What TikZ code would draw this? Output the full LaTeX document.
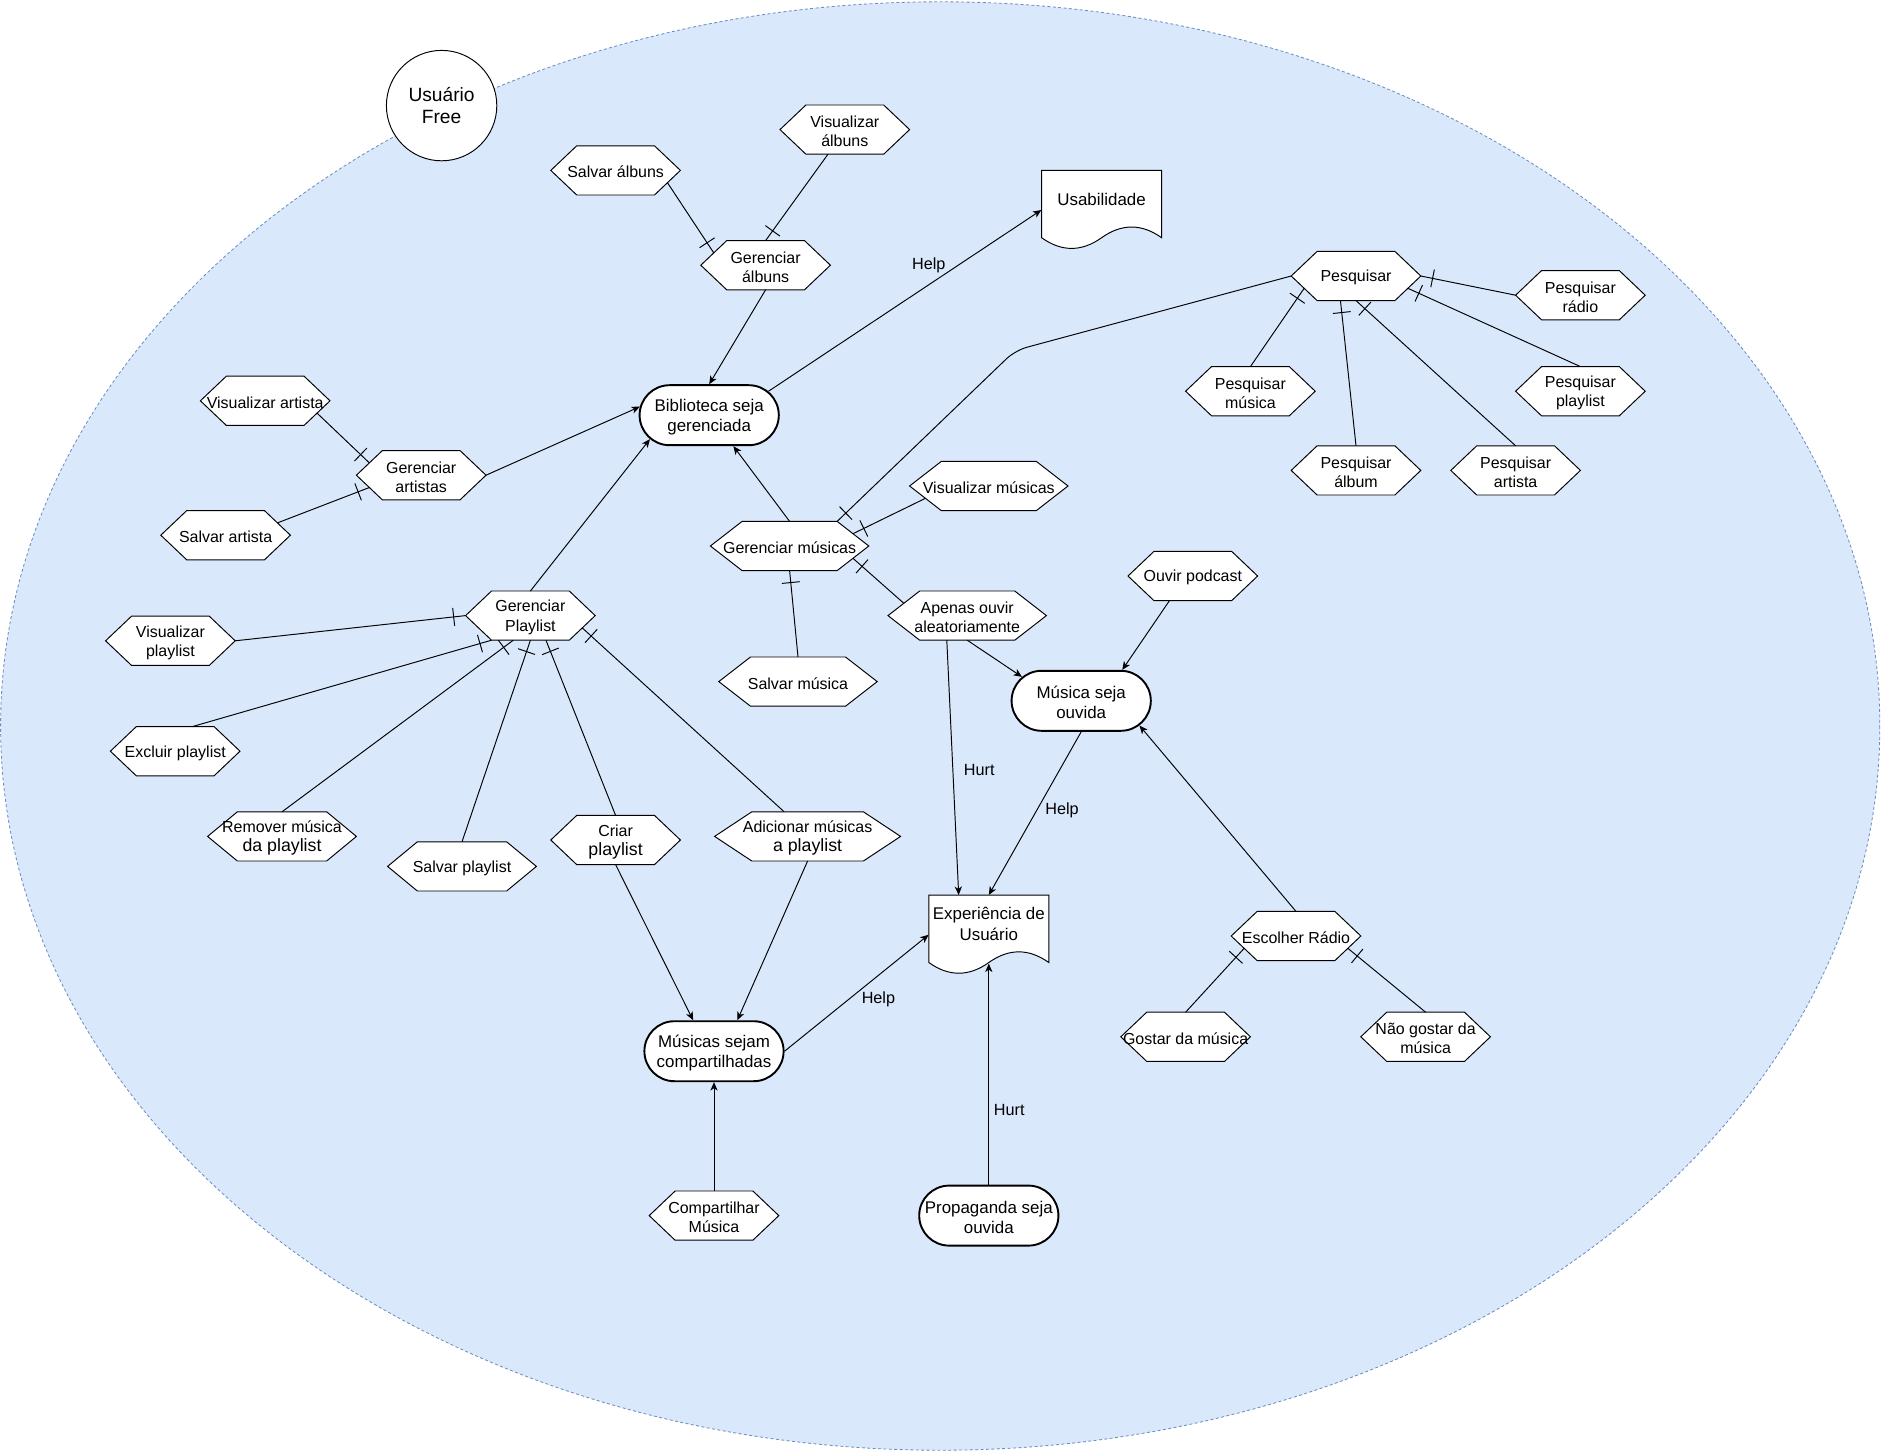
\documentclass[tikz,border=0pt]{standalone}
\usepackage{fontspec}
\setmainfont{Liberation Sans}
\usetikzlibrary{shapes.misc,arrows.meta,decorations.markings,calc}
\definecolor{bgblue}{HTML}{DAE8FC}
\definecolor{bdblue}{HTML}{6C8EBF}
\newcommand\bigln{\fontsize{14.8}{16}\selectfont}
\tikzset{
  hexshape/.style={draw=black, fill=white, line width=0.8pt},
  hextext/.style={rectangle, draw=none, inner sep=0pt, align=center, yshift=-1.5pt, font=\fontsize{13.3}{16}\selectfont},
  goal/.style={rounded rectangle, draw=black, fill=white, line width=1.6pt, minimum width=116pt, minimum height=50pt, inner sep=0pt, align=center, font=\fontsize{14.1}{17}\selectfont},
  goaltext/.style={inner sep=0pt, align=center, font=\fontsize{14.1}{17}\selectfont},
  docshape/.style={draw=black, fill=white, line width=0.8pt},
  docbox/.style={rectangle, draw=none, minimum width=100pt, minimum height=66pt, inner sep=0pt},
  doctext/.style={align=center, inner sep=0pt, font=\fontsize{14.1}{17}\selectfont},
  conn/.style={draw=black, line width=0.8pt},
  arr/.style={conn, -{Stealth[length=7pt,width=6pt,inset=2pt]}},
  tickend/.style={conn, postaction={decorate}, decoration={markings, mark=at position -10pt with {\draw[black, line width=0.8pt] (0,-7.5pt) -- (0,7.5pt);}}},
  lbl/.style={inner sep=0pt, font=\fontsize{13.5}{16}\selectfont},
}
% name, cx, cy, w, h, text
\newcommand\hexnode[6]{%
  \coordinate (#1-l) at (#2-0.5*#4,#3);
  \coordinate (#1-r) at (#2+0.5*#4,#3);
  \coordinate (#1-t) at (#2,#3-0.5*#5);
  \coordinate (#1-b) at (#2,#3+0.5*#5);
  \coordinate (#1-tl) at (#2-0.3*#4,#3-0.5*#5);
  \coordinate (#1-tr) at (#2+0.3*#4,#3-0.5*#5);
  \coordinate (#1-bl) at (#2-0.3*#4,#3+0.5*#5);
  \coordinate (#1-br) at (#2+0.3*#4,#3+0.5*#5);
  \coordinate (#1-ul) at (#2-0.4*#4,#3-0.25*#5);
  \coordinate (#1-ur) at (#2+0.4*#4,#3-0.25*#5);
  \coordinate (#1-dl) at (#2-0.4*#4,#3+0.25*#5);
  \coordinate (#1-dr) at (#2+0.4*#4,#3+0.25*#5);
  \path[hexshape] (#1-l) -- (#1-tl) -- (#1-tr) -- (#1-r) -- (#1-br) -- (#1-bl) -- cycle;
  \node[hextext] (#1) at (#2,#3) {#6};
}
% name, cx, cy, text
\newcommand\goalnode[4]{%
  \node[goal] (#1) at (#2,#3) {};
  \node[goaltext] (#1-txt) at (#2,#3+1.5) {#4};
}
% name, cx, top, text
\newcommand\docnode[4]{%
  \path[docshape] (#2-50,#3) -- (#2+50,#3) -- (#2+50,#3+56.1)
    .. controls (#2+33.33,#3+44.23) and (#2+16.67,#3+44.23) .. (#2,#3+56.1)
    .. controls (#2-16.67,#3+67.97) and (#2-33.33,#3+67.97) .. (#2-50,#3+56.1) -- cycle;
  \node[docbox] (#1) at (#2,#3+33) {};
  \node[doctext] (#1-txt) at (#2,#3+24) {#4};
  \coordinate (#1-w) at (#2,#3+57);
}
\begin{document}
\begin{tikzpicture}[x=1pt,y=-1pt]
\useasboundingbox (0,0) rectangle (1567.5,1209.2);
\path[fill=bgblue, draw=bdblue, line width=0.7pt, dash pattern=on 2.5pt off 2pt] (783.5,605) ellipse [x radius=783, y radius=603.5];

\node[circle, draw=black, fill=white, line width=0.8pt, minimum size=92pt, inner sep=0pt, align=center, font=\fontsize{16}{18}\selectfont] (user) at (368,88) {Usuário\\Free};

\hexnode{sa}{513}{142}{108}{41}{Salvar álbuns}
\hexnode{va}{704}{108}{108}{41}{Visualizar\\álbuns}
\hexnode{ga}{638}{221}{108}{41}{Gerenciar\\álbuns}
\hexnode{pes}{1130}{230}{108}{41}{Pesquisar}
\hexnode{pra}{1317}{246}{108}{41}{Pesquisar\\rádio}
\hexnode{pmu}{1042}{326}{108}{41}{Pesquisar\\música}
\hexnode{ppl}{1317}{326}{108}{41}{Pesquisar\\playlist}
\hexnode{pal}{1130}{392}{108}{41}{Pesquisar\\álbum}
\hexnode{par}{1263}{392}{108}{41}{Pesquisar\\artista}
\hexnode{vart}{221}{334}{108}{41}{Visualizar artista}
\hexnode{gart}{351}{396}{108}{41}{Gerenciar\\artistas}
\hexnode{sart}{188}{446}{108}{41}{Salvar artista}
\hexnode{vmu}{824}{405}{132}{41}{Visualizar músicas}
\hexnode{gmu}{658}{455}{132}{41}{Gerenciar músicas}
\hexnode{apo}{806}{513}{132}{41}{Apenas ouvir\\aleatoriamente}
\hexnode{opo}{994}{480}{108}{41}{Ouvir podcast}
\hexnode{smu}{665}{568}{132}{41}{Salvar música}
\hexnode{gpl}{442}{513}{108}{41}{Gerenciar\\Playlist}
\hexnode{vpl}{142}{534}{108}{41}{Visualizar\\playlist}
\hexnode{epl}{146}{626}{108}{41}{Excluir playlist}
\hexnode{rem}{235}{697}{124}{41}{Remover música\\\bigln da playlist}
\hexnode{spl}{385}{722}{124}{41}{Salvar playlist}
\hexnode{cri}{513}{700}{108}{41}{Criar\\\bigln playlist}
\hexnode{adi}{673}{697}{155}{41}{Adicionar músicas\\\bigln a playlist}
\hexnode{era}{1080}{780}{108}{41}{Escolher Rádio}
\hexnode{gos}{988}{864}{108}{41}{Gostar da música}
\hexnode{ngo}{1188}{864}{108}{41}{Não gostar da\\música}
\hexnode{com}{595}{1013}{108}{41}{Compartilhar\\Música}

\goalnode{bib}{591}{346}{Biblioteca seja\\gerenciada}
\goalnode{mso}{901}{584}{Música seja\\ouvida}
\goalnode{msc}{595}{876}{Músicas sejam\\compartilhadas}
\goalnode{pro}{824}{1013}{Propaganda seja\\ouvida}

\docnode{usa}{918}{142}{Usabilidade}
\docnode{exp}{824}{746}{Experiência de\\Usuário}

% connectors
\draw[tickend] (sa-dr) -- (ga-ul);
\draw[tickend] ($(va-b)+(-14,0)$) -- (ga-t);
\draw[arr] (ga-b) -- (bib.north);
\draw[arr] (bib.22) -- (usa.west) node[lbl] at (774,221) {Help};
\draw[tickend] (vart-dr) -- (gart-ul);
\draw[tickend] (sart-ur) -- (gart-dl);
\draw[arr] (gart-r) -- (bib.173);
\draw[arr] (gpl-t) -- (bib.202);
\draw[arr] (gmu-t) -- (bib.-52);
\draw[tickend, rounded corners=10pt] (pes-l) -- (846,292) -- (gmu-tr);
\draw[tickend] (vmu-dl) -- (gmu-ur);
\draw[tickend] (apo-ul) -- (gmu-dr);
\draw[tickend] (smu-t) -- (gmu-b);
\draw[arr] (apo-b) -- (mso.158);
\draw[arr] ($(apo-b)+(-17,0)$) -- ($(exp.north)!0.5!(exp.north west)$) node[lbl] at (816,642) {Hurt};
\draw[arr] (mso.south) -- (exp.north) node[lbl] at (885,675) {Help};
\draw[arr] ($(opo-bl)!0.2!(opo-br)$) -- (mso.37);
\draw[arr] (era-t) -- (mso.-23);
\draw[tickend] (gos-t) -- (era-dl);
\draw[tickend] (ngo-t) -- (era-dr);
\draw[tickend] (pra-l) -- (pes-r);
\draw[tickend] (pmu-t) -- (pes-dl);
\draw[tickend] (pal-t) -- ($(pes-bl)!0.3!(pes-br)$);
\draw[tickend] (par-t) -- (pes-b);
\draw[tickend] (ppl-t) -- (pes-dr);
\draw[tickend] (vpl-r) -- (gpl-l);
\draw[tickend] ($(epl-tl)!0.72!(epl-tr)$) -- (gpl-bl);
\draw[tickend] (rem-t) -- ($(gpl-bl)!0.28!(gpl-br)$);
\draw[tickend] (spl-t) -- (gpl-b);
\draw[tickend] (cri-t) -- ($(gpl-bl)!0.7!(gpl-br)$);
\draw[tickend] ($(adi-tl)!0.29!(adi-tr)$) -- (gpl-dr);
\draw[arr] (cri-b) -- (msc.124);
\draw[arr] (adi-b) -- (msc.53);
\draw[arr] (msc.east) -- (exp.west) node[lbl] at (732,833) {Help};
\draw[arr] (com-t) -- (msc.south);
\draw[arr] (pro.north) -- (exp-w) node[lbl] at (841,925) {Hurt};
\end{tikzpicture}
\end{document}
